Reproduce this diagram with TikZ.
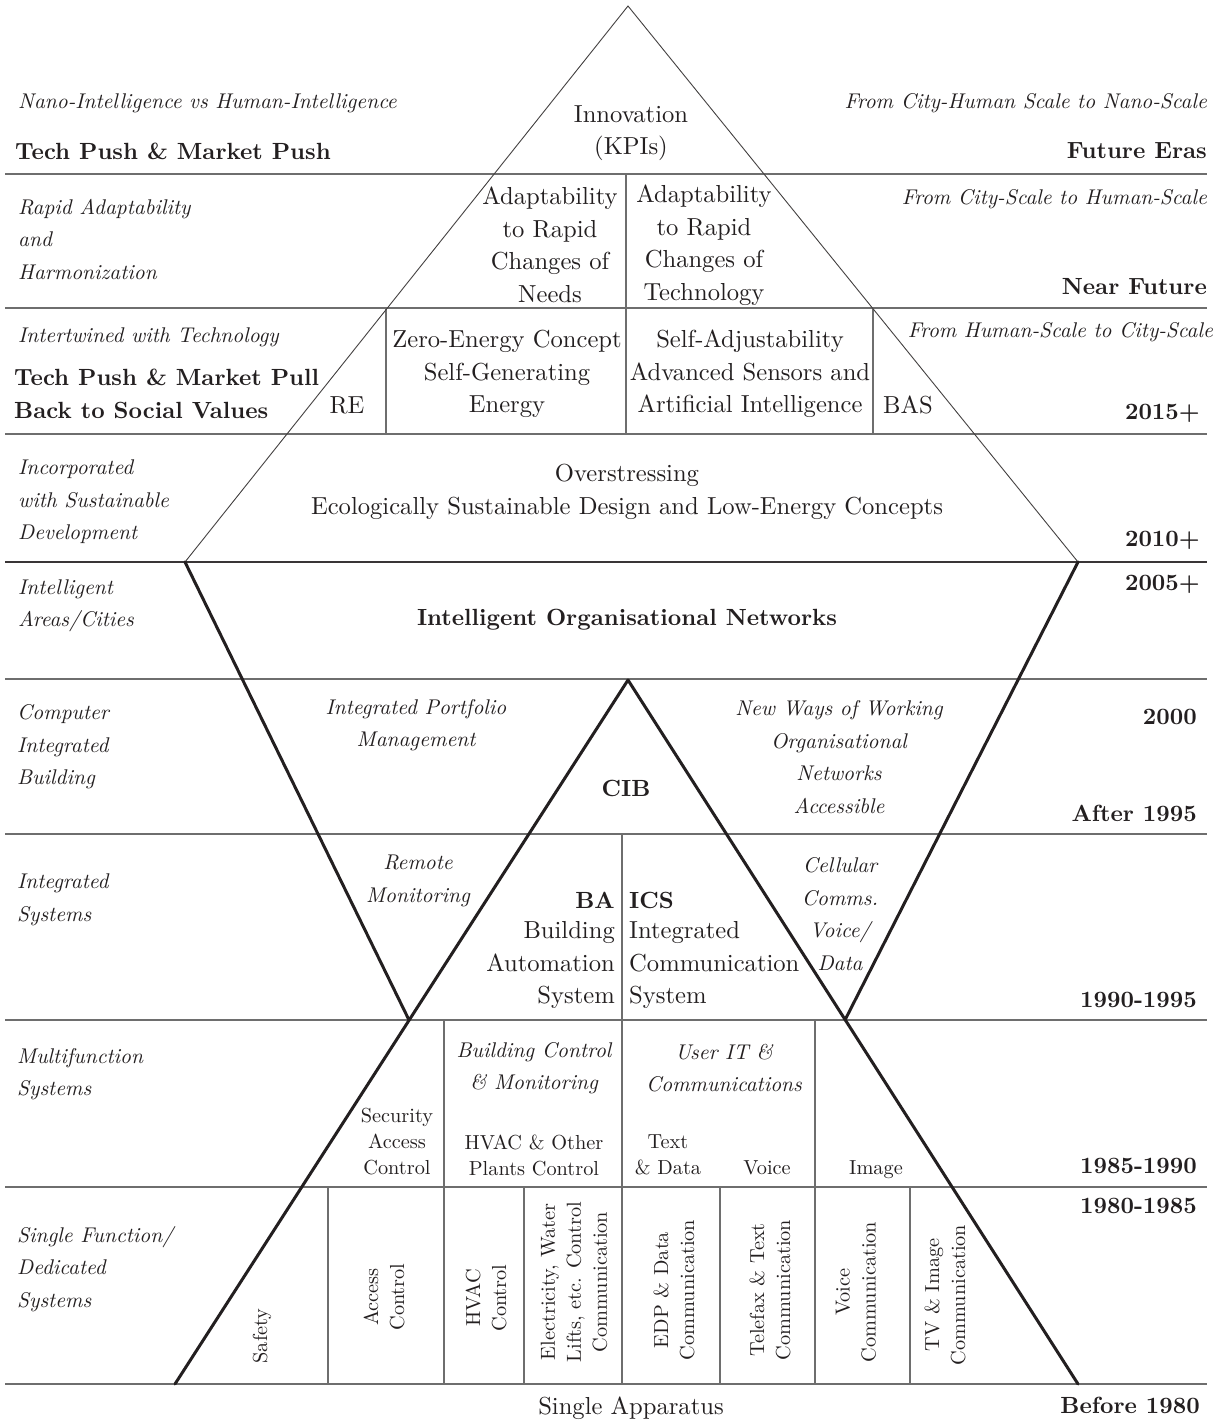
\documentclass[tikz,border=0pt]{standalone}
\usepackage{fontspec}
\setmainfont{lmroman10-regular.otf}[BoldFont=lmroman10-bold.otf, ItalicFont=lmroman10-italic.otf, BoldItalicFont=lmroman10-bolditalic.otf]
\usepackage{tikz}
\definecolor{txt}{HTML}{231F20}
\definecolor{ln}{HTML}{6E6E6E}
\begin{document}
\begin{tikzpicture}[x=1pt,y=-1pt,
  it/.style={font=\fontsize{21.3}{32.5}\selectfont\itshape, inner sep=0pt, text=txt},
  rm/.style={font=\fontsize{24.6}{32.5}\selectfont, inner sep=0pt, text=txt},
  bf/.style={font=\fontsize{23.4}{32.5}\selectfont\bfseries, inner sep=0pt, text=txt},
  sm/.style={font=\fontsize{20.3}{26}\selectfont, inner sep=0pt, text=txt},
  hline/.style={draw=ln, line width=1.4pt},
  vline/.style={draw=ln, line width=1.2pt},
  thinedge/.style={draw=txt!85, line width=0.9pt},
  thickedge/.style={draw=txt, line width=3pt, line cap=round},
]
\fill[white] (0,0) rectangle (1223,1424);
\useasboundingbox (0,0) rectangle (1223,1424);

% key points
\coordinate (T) at (628,6);
\coordinate (TL) at (185,562);
\coordinate (TR) at (1078,562);
\coordinate (VL) at (409,1020);
\coordinate (VR) at (845,1020);
\coordinate (C) at (628,680);
\coordinate (BL) at (175,1384);
\coordinate (BR) at (1078,1384);

% horizontal lines
\foreach \yy/\nm in {174/ha,308/hb,434/hc,679/he,834/hf,1020/hg,1187/hh,1384/hi}{
  \coordinate (\nm w) at (5,\yy); \coordinate (\nm e) at (1207,\yy);
  \draw[hline] (\nm w) -- (\nm e);
}
\coordinate (hdw) at (5,562); \coordinate (hde) at (1207,562);
\draw[draw=txt!90, line width=2.4pt] (hdw) -- (hde);

% vertical lines
\foreach \xx/\ya/\yb/\nm in {626/174/434/va, 386/308/434/vb, 873/308/434/vc,
  622/834/1384/vd, 444/1020/1384/ve, 815/1020/1384/vf,
  328/1187/1384/vg, 524/1187/1384/vh, 720/1187/1384/vi, 910/1187/1384/vj}{
  \coordinate (\nm a) at (\xx,\ya); \coordinate (\nm b) at (\xx,\yb);
  \draw[vline] (\nm a) -- (\nm b);
}

% top triangle
\draw[thinedge] (TL) -- (T) -- (TR);
% inverted triangles
\draw[thickedge] (TL) -- (VL);
\draw[thickedge] (TR) -- (VR);
\draw[thickedge] (C) -- (BL);
\draw[thickedge] (C) -- (BR);

% left column
\node[it, anchor=west] (l1) at (18,103) {Nano-Intelligence vs Human-Intelligence};
\node[bf, anchor=west] (l2) at (15,151) {Tech Push \& Market Push};
\node[it, anchor=west, align=left] (l3) at (18,239) {Rapid Adaptability\\and\\Harmonization};
\node[it, anchor=west] (l4) at (18,337) {Intertwined with Technology};
\node[bf, anchor=west, align=left] (l5) at (14,394) {Tech Push \& Market Pull\\Back to Social Values};
\node[it, anchor=west, align=left] (l6) at (18,502) {Incorporated\\with Sustainable\\Development};
\node[it, anchor=west, align=left] (l7) at (18,606) {Intelligent\\Areas/Cities};
\node[it, anchor=west, align=left] (l8) at (17,747) {Computer\\Integrated\\Building};
\node[it, anchor=west, align=left] (l9) at (17,900) {Integrated\\Systems};
\node[it, anchor=west, align=left] (l10) at (17,1074) {Multifunction\\Systems};
\node[it, anchor=west, align=left] (l11) at (17,1269) {Single Function/\\Dedicated\\Systems};

% right column
\node[it, anchor=east] (r1) at (1207,103) {From City-Human Scale to Nano-Scale};
\node[bf, anchor=east] (r2) at (1207,151) {Future Eras};
\node[it, anchor=east] (r3) at (1207,199) {From City-Scale to Human-Scale};
\node[bf, anchor=east] (r4) at (1207,287) {Near Future};
\node[it, anchor=east] (r5) at (1213,332) {From Human-Scale to City-Scale};
\node[bf, anchor=east] (r6) at (1200,413) {2015+};
\node[bf, anchor=east] (r7) at (1200,540) {2010+};
\node[bf, anchor=east] (r8) at (1200,584) {2005+};
\node[bf, anchor=east] (r9) at (1197,717) {2000};
\node[bf, anchor=east] (r10) at (1197,813) {After 1995};
\node[bf, anchor=east] (r11) at (1197,1000) {1990-1995};
\node[bf, anchor=east] (r12) at (1197,1166) {1985-1990};
\node[bf, anchor=east] (r13) at (1197,1206) {1980-1985};
\node[bf, anchor=east] (r14) at (1200,1405) {Before 1980};

% centre texts
\node[rm, align=center] (innov) at (631,133) {Innovation\\(KPIs)};
\node[rm, align=center] (adneed) at (550,245) {Adaptability\\to Rapid\\Changes of\\Needs};
\node[rm, align=center] (adtech) at (704,245) {Adaptability\\to Rapid\\Changes of\\Technology};
\node[rm, align=center] (zero) at (507,374) {Zero-Energy Concept\\Self-Generating\\Energy};
\node[rm, align=center] (selfadj) at (750,374) {Self-Adjustability\\Advanced Sensors and\\Artificial Intelligence};
\node[rm] (re) at (347,405) {RE};
\node[rm] (bas) at (908,405) {BAS};
\node[rm, align=center] (over) at (627,492) {Overstressing\\Ecologically Sustainable Design and Low-Energy Concepts};
\node[bf] (ion) at (627,620) {Intelligent Organisational Networks};
\node[it, align=center] (ipm) at (416,725) {Integrated Portfolio\\Management};
\node[it, align=center] (nww) at (839,757) {New Ways of Working\\Organisational\\Networks\\Accessible};
\node[bf] (cib) at (626,788) {CIB};
\node[it, align=center] (remote) at (418,881) {Remote\\Monitoring};
\node[bf, anchor=east] (ba) at (615,900) {BA};
\node[rm, anchor=east, align=right] (bas2) at (615,965) {Building\\Automation\\System};
\node[bf, anchor=west] (ics) at (629,900) {ICS};
\node[rm, anchor=west, align=left] (ics2) at (629,965) {Integrated\\Communication\\System};
\node[it, align=center] (cell) at (840,914) {Cellular\\Comms.\\Voice/\\Data};
\node[it, align=center] (bcm) at (534,1068) {Building Control\\\& Monitoring};
\node[it, align=center] (uit) at (724,1068) {User IT \&\\Communications};
\node[sm, align=center] (sac) at (397,1142) {Security\\Access\\Control};
\node[sm, align=center] (hvo) at (534,1155) {HVAC \& Other\\Plants Control};
\node[sm, align=center] (txd) at (668,1155) {Text\\\& Data};
\node[sm] (voi) at (767,1168) {Voice};
\node[sm] (img) at (876,1170) {Image};

% rotated texts
\node[sm, rotate=90] (saf) at (262,1336) {Safety};
\node[sm, rotate=90, align=center] (acc) at (384,1297) {Access\\Control};
\node[sm, rotate=90, align=center] (hvc) at (486,1298) {HVAC\\Control};
\node[sm, rotate=90, align=center] (elw) at (574,1282) {Electricity, Water\\Lifts, etc. Control\\Communication};
\node[sm, rotate=90, align=center] (edp) at (674,1290) {EDP \& Data\\Communication};
\node[sm, rotate=90, align=center] (tfx) at (770,1290) {Telefax \& Text\\Communication};
\node[sm, rotate=90, align=center] (vco) at (856,1292) {Voice\\Communication};
\node[sm, rotate=90, align=center] (tvi) at (945,1295) {TV \& Image\\Communication};

\node[rm] (single) at (631,1408) {Single Apparatus};
\end{tikzpicture}
\end{document}
